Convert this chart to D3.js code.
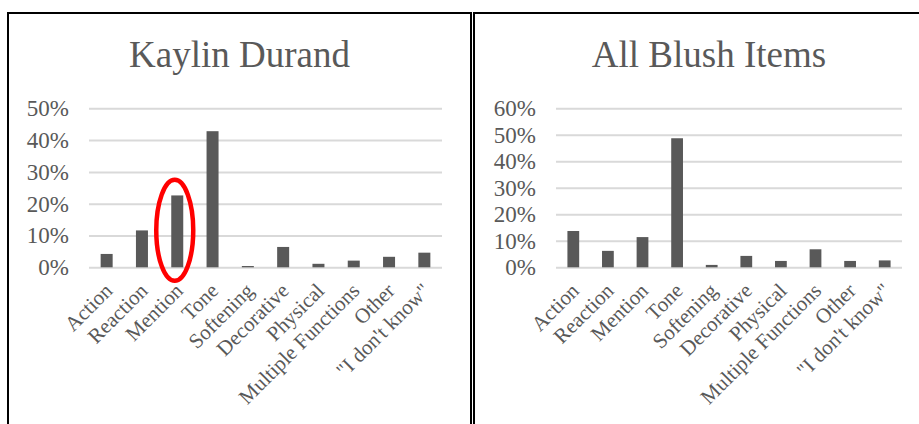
<!DOCTYPE html>
<html>
<head>
<meta charset="utf-8">
<script src="https://cdn.jsdelivr.net/npm/d3@7"></script>
<style>
  html, body { margin: 0; padding: 0; background: #ffffff; }
  svg { display: block; }
  text { font-family: "Liberation Serif", "Times New Roman", serif; fill: #595959; }
</style>
</head>
<body>
<svg id="chart" width="919" height="424"></svg>
<script>
// Category labels shared by both panels
const categories = ["Action", "Reaction", "Mention", "Tone", "Softening", "Decorative",
  "Physical", "Multiple Functions", "Other", "\"I don't know\""];

// Share of responses per category (fractions)
const kaylinValues = [0.042, 0.116, 0.226, 0.428, 0.004, 0.064, 0.011, 0.021, 0.033, 0.046];
const allBlushValues = [0.137, 0.062, 0.114, 0.487, 0.009, 0.043, 0.024, 0.068, 0.024, 0.026];

// Y-axis tick values per panel
const kaylinTicks = [0, 0.1, 0.2, 0.3, 0.4, 0.5];
const allBlushTicks = [0, 0.1, 0.2, 0.3, 0.4, 0.5, 0.6];

const titles = ["Kaylin Durand", "All Blush Items"];
const highlightCategory = "Mention";

const svg = d3.select("#chart");
const fmt = d3.format(".0%");

function drawPanel(opts) {
  const g = svg.append("g");

  // panel frame
  g.append("rect")
    .attr("x", opts.box[0]).attr("y", opts.box[1])
    .attr("width", opts.box[2]).attr("height", opts.box[3])
    .attr("fill", "#ffffff").attr("stroke", "#000000").attr("stroke-width", 2);

  // title
  g.append("text")
    .attr("x", opts.box[0] + opts.box[2] / 2).attr("y", 67)
    .attr("text-anchor", "middle")
    .style("font-size", "37px")
    .text(opts.title);

  const x = d3.scaleBand()
    .domain(categories)
    .range([opts.left, opts.right])
    .paddingInner(0.66)
    .paddingOuter(0.33);

  const y = d3.scaleLinear()
    .domain([0, d3.max(opts.ticks)])
    .range([267.3, 108.3]);

  // gridlines and y tick labels
  const yAxis = d3.axisLeft(y)
    .tickValues(opts.ticks)
    .tickFormat(fmt)
    .tickSize(-(opts.right - opts.left))
    .tickPadding(20);

  const ya = g.append("g")
    .attr("transform", `translate(${opts.left},0)`)
    .call(yAxis);
  ya.select(".domain").remove();
  ya.selectAll(".tick line").attr("stroke", "#d9d9d9").attr("stroke-width", 2);
  ya.selectAll(".tick text")
    .attr("fill", "#595959")
    .style("font-size", "23px")
    .style("font-family", "\"Liberation Serif\", \"Times New Roman\", serif");

  // bars
  g.append("g").selectAll("rect")
    .data(opts.values)
    .join("rect")
    .attr("x", (d, i) => x(categories[i]))
    .attr("y", d => y(d))
    .attr("width", x.bandwidth())
    .attr("height", d => y(0) - y(d))
    .attr("fill", "#595959");

  // rotated category labels
  g.append("g").selectAll("text")
    .data(categories)
    .join("text")
    .attr("text-anchor", "end")
    .attr("transform", d => `translate(${x(d) + x.bandwidth() / 2 + 7},292) rotate(-45)`)
    .style("font-size", "21px")
    .text(d => d);

  return { x, y, g };
}

// right panel first so the left frame sits beside it
const right = drawPanel({
  box: [474, 13, 470, 430],
  title: titles[1],
  left: 556, right: 902,
  ticks: allBlushTicks,
  values: allBlushValues
});

const left = drawPanel({
  box: [8, 13, 463, 430],
  title: titles[0],
  left: 89, right: 442,
  ticks: kaylinTicks,
  values: kaylinValues
});

// red ellipse around the highlighted bar
const hi = categories.indexOf(highlightCategory);
left.g.append("ellipse")
  .attr("cx", left.x(highlightCategory) + left.x.bandwidth() / 2 - 2.5)
  .attr("cy", (left.y(kaylinValues[hi]) + left.y(0)) / 2 - 1)
  .attr("rx", 18.5)
  .attr("ry", 50.5)
  .attr("fill", "none")
  .attr("stroke", "#ff0000")
  .attr("stroke-width", 4.5);
</script>
</body>
</html>
